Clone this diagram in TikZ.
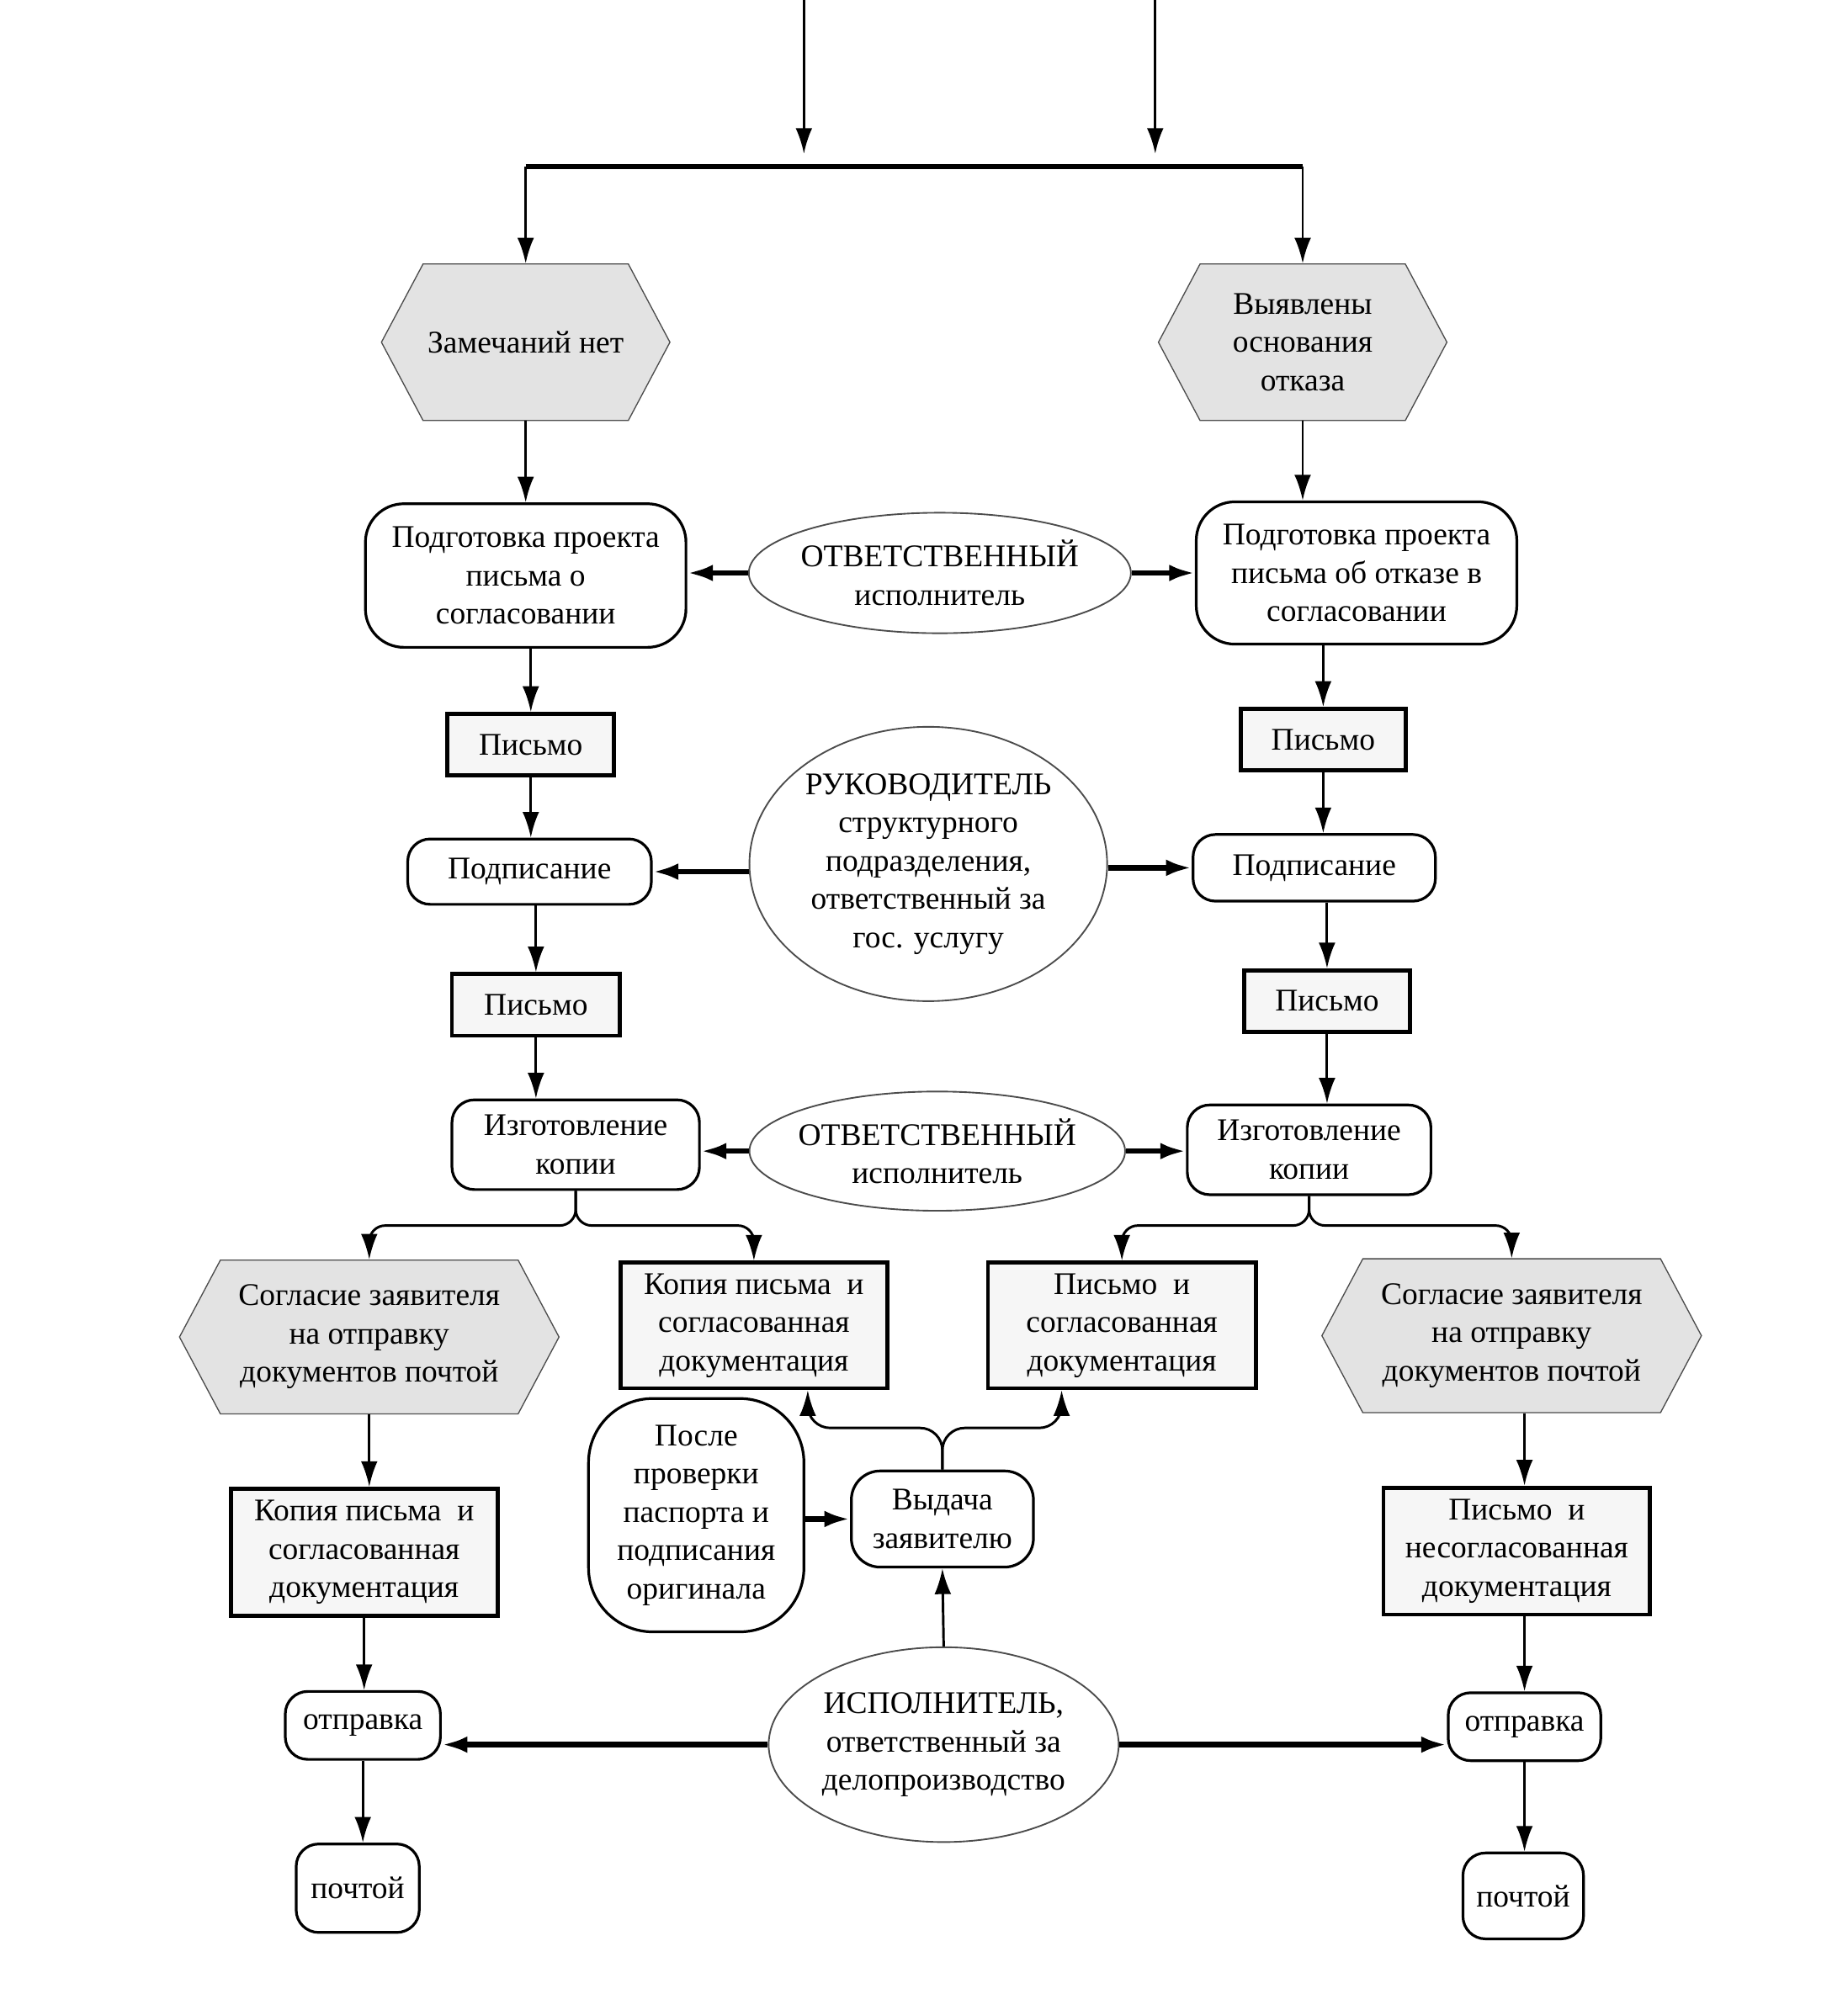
\documentclass[tikz,border=0pt]{standalone}
\usepackage{fontspec}
\setmainfont{Liberation Serif}
\usetikzlibrary{arrows.meta,shapes.geometric,shapes.symbols}

\tikzset{
	arr/.style={-{Latex[length=4mm,width=2.6mm]}, line width=1.1pt},
	fatarr/.style={arr, line width=2.4pt},
	proc/.style={draw, line width=1.2pt, rounded corners=0.35cm, align=center, inner sep=2pt},
	doc/.style={draw, line width=1.8pt, fill=gray!7, align=center, inner sep=2pt},
	cond/.style={signal, signal to=west and east, signal pointer angle=124, draw=gray!60!black, line width=0.5pt, fill=gray!22, align=center, inner sep=1pt},
	role/.style={ellipse, draw=gray!60!black, line width=0.7pt, align=center, inner xsep=-3mm, inner ysep=-1mm},
}

\begin{document}
\begin{tikzpicture}[every node/.style={font=\fontsize{14}{17}\selectfont}]
	\useasboundingbox (0,0) rectangle (28.82,31.36);

	% incoming lines and the bus
	\coordinate (inA) at (12.54,31.36);
	\coordinate (inB) at (18.02,31.36);
	\coordinate (endA) at (12.54,28.96);
	\coordinate (endB) at (18.02,28.96);
	\coordinate (busL) at (8.2,28.76);
	\coordinate (busR) at (20.32,28.76);
	\draw[arr] (inA) -- (endA);
	\draw[arr] (inB) -- (endB);
	\draw[line width=2.2pt] (busL) -- (busR);

	% first row
	\node[cond, minimum width=4.5cm, minimum height=2.44cm] (noRem) at (8.2,26.02) {Замечаний нет};
	\node[cond, minimum width=4.5cm, minimum height=2.44cm] (refuse) at (20.32,26.02) {Выявлены\\основания\\отказа};

	\node[proc, rounded corners=0.6cm, minimum width=5cm, minimum height=2.24cm] (prepL) at (8.2,22.38) {Подготовка проекта\\письма о\\согласовании};
	\node[proc, rounded corners=0.6cm, minimum width=5cm, minimum height=2.22cm] (prepR) at (21.16,22.42) {Подготовка проекта\\письма об отказе в\\согласовании};
	\node[role, minimum width=5.96cm, minimum height=1.88cm] (resp1) at (14.66,22.42) {ОТВЕТСТВЕННЫЙ\\исполнитель};

	\node[doc, minimum width=2.6cm, minimum height=0.96cm] (letL1) at (8.28,19.74) {Письмо};
	\node[doc, minimum width=2.58cm, minimum height=0.96cm] (letR1) at (20.64,19.82) {Письмо};

	\node[proc, minimum width=3.8cm, minimum height=1.02cm] (signL) at (8.26,17.76) {Подписание};
	\node[proc, minimum width=3.78cm, minimum height=1.04cm] (signR) at (20.5,17.82) {Подписание};
	\node[role, minimum width=5.58cm, minimum height=4.28cm] (head) at (14.48,17.88) {РУКОВОДИТЕЛЬ\\структурного\\подразделения,\\ответственный за\\гос. услугу};

	\node[doc, minimum width=2.62cm, minimum height=0.96cm] (letL2) at (8.36,15.68) {Письмо};
	\node[doc, minimum width=2.58cm, minimum height=0.96cm] (letR2) at (20.7,15.74) {Письмо};

	\node[proc, minimum width=3.86cm, minimum height=1.4cm] (copyL) at (8.98,13.5) {Изготовление\\копии};
	\node[proc, minimum width=3.8cm, minimum height=1.4cm] (copyR) at (20.42,13.42) {Изготовление\\копии};
	\node[role, minimum width=5.86cm, minimum height=1.86cm] (resp2) at (14.62,13.4) {ОТВЕТСТВЕННЫЙ\\исполнитель};

	% results
	\node[cond, minimum width=5.92cm, minimum height=2.4cm] (agreeL) at (5.76,10.5) {Согласие заявителя\\на отправку\\документов почтой};
	\node[doc, minimum width=4.16cm, minimum height=1.96cm] (docCopy) at (11.76,10.68) {Копия письма~ и\\согласованная\\документация};
	\node[doc, minimum width=4.18cm, minimum height=1.96cm] (docOrig) at (17.5,10.68) {Письмо~ и\\согласованная\\документация};
	\node[cond, minimum width=5.92cm, minimum height=2.4cm] (agreeR) at (23.58,10.52) {Согласие заявителя\\на отправку\\документов почтой};

	\node[doc, minimum width=4.16cm, minimum height=1.98cm] (postCopy) at (5.68,7.14) {Копия письма~ и\\согласованная\\документация};
	\node[doc, minimum width=4.16cm, minimum height=1.98cm] (postRef) at (23.66,7.16) {Письмо~ и\\несогласованная\\документация};
	\node[proc, rounded corners=1cm, minimum width=3.36cm, minimum height=3.64cm] (check) at (10.86,7.72) {После\\проверки\\паспорта и\\подписания\\оригинала};
	\node[proc, rounded corners=0.45cm, minimum width=2.84cm, minimum height=1.5cm] (issue) at (14.7,7.66) {Выдача\\заявителю};
	\node[role, minimum width=5.46cm, minimum height=3.04cm] (clerk) at (14.72,4.14) {ИСПОЛНИТЕЛЬ,\\ответственный за\\делопроизводство};

	\node[proc, minimum width=2.42cm, minimum height=1.06cm] (sendL) at (5.66,4.44) {отправка};
	\node[proc, minimum width=2.38cm, minimum height=1.06cm] (sendR) at (23.78,4.42) {отправка};
	\node[proc, minimum width=1.92cm, minimum height=1.38cm] (mailL) at (5.58,1.9) {почтой};
	\node[proc, minimum width=1.88cm, minimum height=1.34cm] (mailR) at (23.76,1.78) {почтой};

	% connectors
	\draw[arr] (busL) -- (noRem.north);
	\draw[arr] (busR) -- (refuse.north);
	\draw[arr] (noRem.south) -- (noRem.south |- prepL.north);
	\draw[arr] (refuse.south) -- (refuse.south |- prepR.north);
	\draw[fatarr] (resp1.west) -- (resp1.west -| prepL.east);
	\draw[fatarr] (resp1.east) -- (resp1.east -| prepR.west);

	\draw[arr] (letL1.north |- prepL.south) -- (letL1.north);
	\draw[arr] (letR1.north |- prepR.south) -- (letR1.north);
	\draw[arr] (letL1.south) -- (letL1.south |- signL.north);
	\draw[arr] (letR1.south) -- (letR1.south |- signR.north);
	\draw[fatarr] (head.west |- signL) -- (signL.east);
	\draw[fatarr] (head.east |- signR) -- (signR.west);

	\draw[arr] (letL2.north |- signL.south) -- (letL2.north);
	\draw[arr] (letR2.north |- signR.south) -- (letR2.north);
	\draw[arr] (letL2.south) -- (letL2.south |- copyL.north);
	\draw[arr] (letR2.south) -- (letR2.south |- copyR.north);
	\draw[fatarr] (resp2.west) -- (resp2.west -| copyL.east);
	\draw[fatarr] (resp2.east) -- (resp2.east -| copyR.west);

	\draw[arr, rounded corners=0.25cm] (copyL.south) -- ++(0,-0.54) -| (agreeL.north);
	\draw[arr, rounded corners=0.25cm] (copyL.south) -- ++(0,-0.54) -| (docCopy.north);
	\draw[arr, rounded corners=0.25cm] (copyR.south) -- ++(0,-0.46) -| (docOrig.north);
	\draw[arr, rounded corners=0.25cm] (copyR.south) -- ++(0,-0.46) -| (agreeR.north);

	\draw[arr] (agreeL.south) -- (agreeL.south |- postCopy.north);
	\draw[arr] (sendR.north |- agreeR.south) -- (sendR.north |- postRef.north);

	\draw[fatarr] (check.east |- issue) -- (issue.west);
	\draw[arr, rounded corners=0.35cm] (issue.north) -- ++(0,0.65) -| ([xshift=0.84cm]docCopy.south);
	\draw[arr, rounded corners=0.35cm] (issue.north) -- ++(0,0.65) -| ([xshift=-0.94cm]docOrig.south);
	\draw[arr] (clerk.north) -- (issue.south);

	\draw[fatarr] (clerk.west) -- (clerk.west -| sendL.east);
	\draw[fatarr] (clerk.east) -- (clerk.east -| sendR.west);
	\draw[arr] (postCopy.south) -- (postCopy.south |- sendL.north);
	\draw[arr] (sendR.north |- postRef.south) -- (sendR.north);
	\draw[arr] (sendL.south) -- (sendL.south |- mailL.north);
	\draw[arr] (sendR.south) -- (sendR.south |- mailR.north);
\end{tikzpicture}
\end{document}
